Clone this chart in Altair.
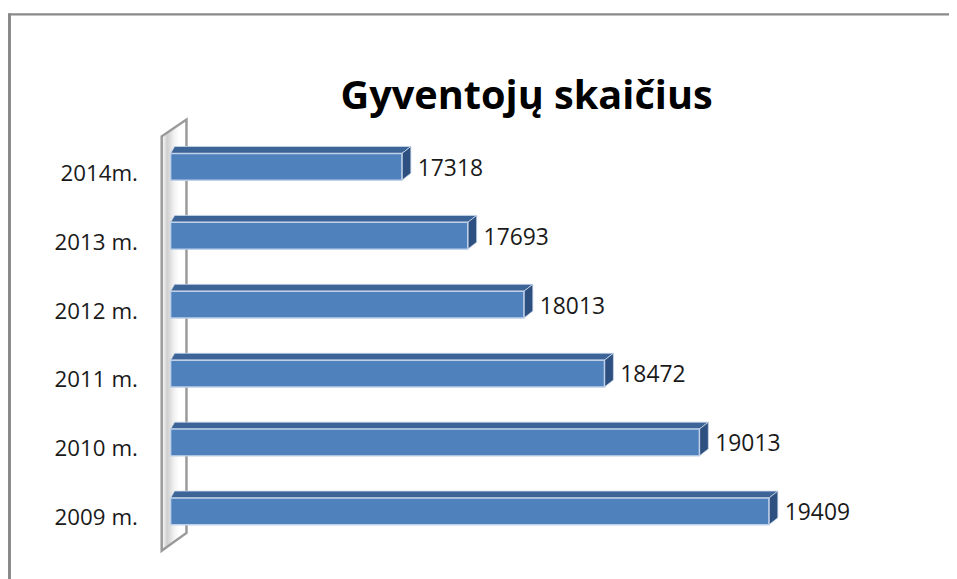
import altair as alt
import pandas as pd

# ---- data ----
categories = ["2014m.", "2013 m.", "2012 m.", "2011 m.", "2010 m.", "2009 m."]
values = [17318, 17693, 18013, 18472, 19013, 19409]
title_text = "Gyventojų skaičius"
axis_start = 16000
axis_end = 20000

# ---- layout / style constants (pixels) ----
W, H = 708, 417
PAD = {"left": 164, "top": 123, "right": 77, "bottom": 31}
kx = W / (axis_end - axis_start)          # px per value unit
ky = H / len(categories)                  # px per category step
HALF_H = 13.5 / ky                        # half height of bar front face (index units)
DEPTH_Y = 7 / ky                          # 3-D depth upwards
DEPTH_XL = 4 / kx                         # 3-D depth at the wall end
DEPTH_XR = 9 / kx                         # 3-D depth at the bar end

FRONT = "#4F81BD"
TOP = "#3C6496"
SIDE = "#2E5081"

xs = alt.Scale(domain=[axis_start, axis_end], nice=False, zero=False)
ys = alt.Scale(domain=[-0.5, len(categories) - 0.5], reverse=True, nice=False, zero=False)

# ---- tables built from the arrays ----
bars = pd.DataFrame({"cat": categories, "value": values, "pos": list(range(len(categories)))})
bars["T"] = bars["pos"] - HALF_H
bars["B"] = bars["pos"] + HALF_H
bars["base"] = axis_start

top_rows, side_rows = [], []
for c, v, p in zip(categories, values, range(len(categories))):
    T, B = p - HALF_H, p + HALF_H
    top_rows += [
        {"cat": c, "x": axis_start, "y": T, "y2": T},
        {"cat": c, "x": axis_start + DEPTH_XL, "y": T, "y2": T - DEPTH_Y},
        {"cat": c, "x": v, "y": T, "y2": T - DEPTH_Y},
        {"cat": c, "x": v + DEPTH_XR, "y": T - DEPTH_Y, "y2": T - DEPTH_Y},
    ]
    side_rows += [
        {"cat": c, "y": T - DEPTH_Y, "x": v + DEPTH_XR, "x2": v + DEPTH_XR},
        {"cat": c, "y": T, "x": v, "x2": v + DEPTH_XR},
        {"cat": c, "y": B - DEPTH_Y, "x": v, "x2": v + DEPTH_XR},
        {"cat": c, "y": B, "x": v, "x2": v},
    ]
top_df = pd.DataFrame(top_rows)
side_df = pd.DataFrame(side_rows)

# wall (3-D back wall at the left of the bars)
wl = axis_start - 9 / kx
wr = axis_start + 16 / kx
wall_df = pd.DataFrame({
    "x": [wl, wr],
    "y": [(553 - 165.75) / ky, (535 - 165.75) / ky],
    "y2": [(135 - 165.75) / ky, (118 - 165.75) / ky],
})

wall = alt.Chart(wall_df).mark_area(
    orient="vertical",
    stroke="#9a9a9a",
    strokeWidth=2.5,
    fill=alt.Gradient(
        gradient="linear",
        stops=[
            alt.GradientStop(offset=0, color="#ffffff"),
            alt.GradientStop(offset=0.22, color="#cfcfcf"),
            alt.GradientStop(offset=0.5, color="#f2f2f2"),
            alt.GradientStop(offset=0.7, color="#ffffff"),
            alt.GradientStop(offset=1, color="#ffffff"),
        ],
        x1=0, x2=1, y1=0, y2=0,
    ),
).encode(
    x=alt.X("x:Q", scale=xs, axis=None),
    y=alt.Y("y:Q", scale=ys, axis=None, stack=None),
    y2="y2:Q",
)

top = alt.Chart(top_df).mark_area(
    orient="vertical", color=TOP, stroke="#c9d6ea", strokeWidth=0.8
).encode(
    x=alt.X("x:Q", scale=xs, axis=None),
    y=alt.Y("y:Q", scale=ys, axis=None, stack=None),
    y2="y2:Q",
    detail="cat:N",
)

side = alt.Chart(side_df).mark_area(
    orient="horizontal", color=SIDE, stroke="#c9d6ea", strokeWidth=0.8
).encode(
    y=alt.Y("y:Q", scale=ys, axis=None),
    x=alt.X("x:Q", scale=xs, axis=None, stack=None),
    x2="x2:Q",
    detail="cat:N",
)

front = alt.Chart(bars).mark_rect(
    color=FRONT, stroke="#bfd0e8", strokeWidth=1.5
).encode(
    x=alt.X("base:Q", scale=xs, axis=None),
    x2="value:Q",
    y=alt.Y("T:Q", scale=ys, axis=None),
    y2="B:Q",
)

value_labels = alt.Chart(bars).mark_text(
    align="left", baseline="middle", dx=16, dy=2,
    font="Open Sans", fontSize=23, color="#1a1a1a",
).encode(
    x=alt.X("value:Q", scale=xs, axis=None),
    y=alt.Y("pos:Q", scale=ys, axis=None),
    text=alt.Text("value:Q", format="d"),
)

cat_labels = alt.Chart(bars).mark_text(
    align="right", baseline="middle", dy=7,
    font="Open Sans", fontSize=22.5, color="#1a1a1a",
).encode(
    x=alt.value(-33),
    y=alt.Y("pos:Q", scale=ys, axis=None),
    text="cat:N",
)

one = pd.DataFrame({"t": [title_text]})
title = alt.Chart(one).mark_text(
    align="center", baseline="alphabetic",
    font="Open Sans", fontSize=40, fontWeight="bold", color="#000000",
).encode(
    x=alt.value(359), y=alt.value(-24), text="t:N",
)

frame_left = alt.Chart(one).mark_rule(color="#8a8a8a", strokeWidth=3).encode(
    x=alt.value(-162.5), y=alt.value(-120), y2=alt.value(470)
)
frame_top = alt.Chart(one).mark_rule(color="#8a8a8a", strokeWidth=2.5).encode(
    x=alt.value(-164), x2=alt.value(800), y=alt.value(-119)
)

chart = alt.layer(
    frame_left, frame_top, wall, top, side, front, value_labels, cat_labels, title
).properties(
    width=W, height=H,
    padding=PAD,
    autosize=alt.AutoSizeParams(type="none"),
    background="#ffffff",
).configure_view(stroke=None)

chart.save("out.html", embed_options={"renderer": "svg", "actions": False})
